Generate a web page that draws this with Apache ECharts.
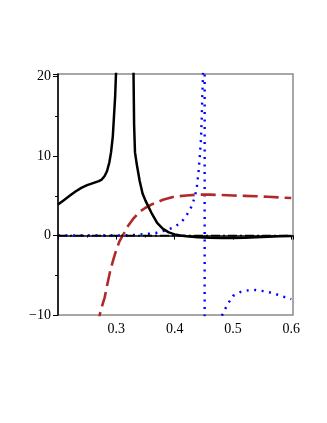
<!DOCTYPE html>
<html>
<head>
<meta charset="utf-8">
<script src="https://cdn.jsdelivr.net/npm/echarts@6/dist/echarts.min.js"></script>
<style>
  html, body { margin: 0; padding: 0; background: #fff; }
  #main { width: 327px; height: 423px; }
</style>
</head>
<body>
<div id="main"></div>
<script>
// black solid curve, two branches around the pole near x=0.315
var solidLeftX  = [0.2, 0.21, 0.22, 0.23, 0.24, 0.25, 0.26, 0.27, 0.275, 0.28, 0.284, 0.288, 0.291, 0.294, 0.296, 0.298, 0.2995, 0.3];
var solidLeftY  = [3.9, 4.45, 5.0, 5.55, 6.0, 6.35, 6.6, 6.85, 7.05, 7.5, 8.1, 9.2, 10.5, 12.5, 15, 17.5, 20.5, 30];
var solidRightX = [0.3285, 0.3295, 0.3305, 0.332, 0.335, 0.34, 0.345, 0.35, 0.36, 0.37, 0.38, 0.39, 0.4, 0.41, 0.42, 0.44, 0.46, 0.48, 0.5, 0.52, 0.54, 0.56, 0.58, 0.6];
var solidRightY = [30, 20.5, 14, 10.5, 9.0, 6.9, 5.3, 4.4, 2.9, 1.6, 0.85, 0.4, 0.15, 0.0, -0.1, -0.2, -0.28, -0.3, -0.3, -0.26, -0.2, -0.15, -0.1, -0.05];

// red dashed curve
var dashX = [0.268, 0.2715, 0.275, 0.28, 0.285, 0.29, 0.295, 0.3, 0.305, 0.31, 0.315, 0.32, 0.33, 0.34, 0.35, 0.36, 0.38, 0.4, 0.42, 0.44, 0.46, 0.48, 0.5, 0.52, 0.54, 0.56, 0.58, 0.6];
var dashY = [-11.5, -10, -9.0, -7.8, -6.0, -4.3, -3.0, -1.8, -0.8, -0.1, 0.5, 1.2, 2.2, 3.0, 3.5, 3.9, 4.5, 4.9, 5.05, 5.15, 5.15, 5.1, 5.05, 5.0, 4.95, 4.88, 4.8, 4.72];

// blue dotted curve, pole near x=0.45
var dotLeftX  = [0.2, 0.25, 0.3, 0.32, 0.34, 0.35, 0.36, 0.37, 0.38, 0.39, 0.4, 0.41, 0.415, 0.42, 0.425, 0.43, 0.435, 0.438, 0.441, 0.443, 0.445, 0.4465, 0.4475, 0.4485, 0.4495];
var dotLeftY  = [0.0, 0.0, 0.02, 0.05, 0.12, 0.2, 0.25, 0.35, 0.55, 0.8, 1.1, 1.6, 2.0, 2.5, 3.1, 3.8, 5.0, 6.0, 8.1, 9.8, 11.9, 14.8, 17.8, 19.7, 25];
var dotJumpX  = [0.4515, 0.4515];
var dotJumpY  = [25, -25];
var dotRightX = [0.478, 0.481, 0.487, 0.493, 0.5, 0.513, 0.526, 0.539, 0.553, 0.566, 0.579, 0.591, 0.6];
var dotRightY = [-11, -10.1, -9.2, -8.4, -7.6, -7.1, -6.9, -6.86, -7.0, -7.2, -7.5, -7.8, -8.0];

// black dash-dot line
var zeroX = [0.2, 0.6];
var zeroY = [0, 0];

var xTicks = [0.3, 0.4, 0.5, 0.6];
var yTicks = [-10, 0, 10, 20];

function pairs(xs, ys) {
  return xs.map(function (x, i) { return [x, ys[i]]; });
}
function joinBranches(a, b) {
  return a.concat([[b[0][0], '-']]).concat(b);
}

var serif = '"Liberation Serif", "DejaVu Serif", serif';
var chart = echarts.init(document.getElementById('main'));

var base = { type: 'line', showSymbol: false, symbol: 'none', clip: true, smooth: false, animation: false };

chart.setOption({
  animation: false,
  grid: {
    left: 58, right: 34, top: 74, bottom: 108,
    show: true, borderColor: '#8a8a8a', borderWidth: 1.5, backgroundColor: 'transparent'
  },
  xAxis: {
    type: 'value', min: 0.2, max: 0.603, interval: 0.1,
    axisLine: { lineStyle: { color: '#000', width: 1.5 } },
    axisTick: { length: 4, lineStyle: { color: '#000' } },
    minorTick: { show: true, splitNumber: 2, length: 2, lineStyle: { color: '#000' } },
    splitLine: { show: false },
    axisLabel: {
      margin: 7, color: '#000', fontFamily: serif, fontSize: 14,
      showMinLabel: false, showMaxLabel: false,
      formatter: function (v) {
        var r = Math.round(v * 10) / 10;
        return xTicks.indexOf(r) >= 0 ? r.toFixed(1) : '';
      }
    }
  },
  yAxis: {
    type: 'value', min: -10, max: 20.34, interval: 10,
    axisLine: { lineStyle: { color: '#000', width: 1.5 } },
    axisTick: { length: 5, lineStyle: { color: '#000' } },
    minorTick: { show: true, splitNumber: 2, length: 3, lineStyle: { color: '#000' } },
    splitLine: { show: false },
    axisLabel: {
      margin: 7, color: '#000', fontFamily: serif, fontSize: 14,
      showMaxLabel: false,
      formatter: function (v) {
        var r = Math.round(v);
        if (yTicks.indexOf(r) < 0) return '';
        return r < 0 ? '\u2212' + (-r) : String(r);
      }
    }
  },
  series: [
    Object.assign({}, base, {
      data: joinBranches(pairs(dotLeftX, dotLeftY), pairs(dotRightX, dotRightY)),
      lineStyle: { color: '#0000ff', width: 2.4, type: [2, 5.5], cap: 'butt' }
    }),
    Object.assign({}, base, {
      data: pairs(dotJumpX, dotJumpY),
      lineStyle: { color: '#0000ff', width: 2.4, type: [2, 5.5], cap: 'butt' }
    }),
    Object.assign({}, base, {
      data: pairs(dashX, dashY),
      lineStyle: { color: '#b0292b', width: 2.6, type: [15, 6] }
    }),
    Object.assign({}, base, {
      data: joinBranches(pairs(solidLeftX, solidLeftY), pairs(solidRightX, solidRightY)),
      lineStyle: { color: '#000', width: 2.5 }
    }),
    Object.assign({}, base, {
      data: pairs(zeroX, zeroY),
      lineStyle: { color: '#000', width: 1.8, type: [9, 3, 2, 3] }
    })
  ]
});
</script>
</body>
</html>
